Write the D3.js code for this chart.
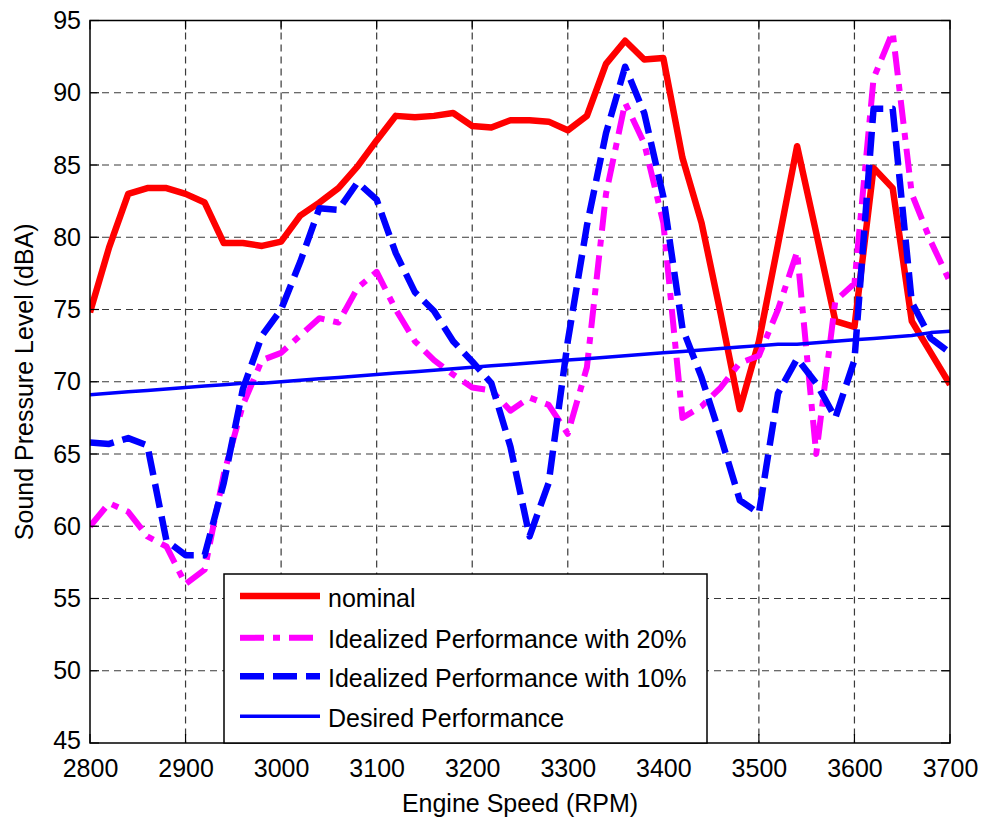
<!DOCTYPE html>
<html>
<head>
<meta charset="utf-8">
<script src="https://cdn.jsdelivr.net/npm/d3@7"></script>
<style>
  html, body { margin: 0; padding: 0; background: #fff; }
  svg text { font-family: "Liberation Sans", Arial, Helvetica, sans-serif; fill: #000; }
</style>
</head>
<body>
<svg id="chart" width="984" height="821"></svg>
<script>
// ---------- data ----------
const rpm = [2800, 2820, 2840, 2860, 2880, 2900, 2920, 2940, 2960, 2980,
             3000, 3020, 3040, 3060, 3080, 3100, 3120, 3140, 3160, 3180,
             3200, 3220, 3240, 3260, 3280, 3300, 3320, 3340, 3360, 3380,
             3400, 3420, 3440, 3460, 3480, 3500, 3520, 3540, 3560, 3580,
             3600, 3620, 3640, 3660, 3680, 3700];

const nominal = [74.8, 79.3, 83.0, 83.4, 83.4, 83.0, 82.4, 79.6, 79.6, 79.4,
                 79.7, 81.5, 82.4, 83.4, 84.9, 86.7, 88.4, 88.3, 88.4, 88.6,
                 87.7, 87.6, 88.1, 88.1, 88.0, 87.4, 88.4, 92.0, 93.6, 92.3,
                 92.4, 85.5, 81.0, 74.7, 68.1, 72.8, 79.5, 86.3, 80.3, 74.2,
                 73.8, 84.8, 83.4, 74.2, 72.0, 69.8];

const ideal20 = [60.0, 61.6, 61.0, 59.3, 58.6, 56.0, 57.0, 63.6, 68.4, 71.5,
                 72.0, 73.2, 74.4, 74.1, 76.5, 77.6, 75.0, 72.8, 71.5, 70.5,
                 69.6, 69.4, 68.0, 68.9, 68.4, 66.4, 71.0, 83.0, 89.3, 86.5,
                 81.0, 67.5, 68.3, 69.6, 71.3, 71.8, 75.0, 79.0, 65.0, 75.6,
                 76.8, 91.0, 94.2, 83.0, 79.7, 76.9];

const ideal10 = [65.8, 65.7, 66.1, 65.6, 59.0, 58.0, 58.0, 63.0, 69.5, 73.2,
                 75.0, 78.3, 82.0, 81.9, 83.8, 82.6, 78.9, 76.2, 74.9, 72.8,
                 71.4, 69.9, 65.5, 59.3, 63.0, 72.8, 80.8, 87.2, 91.8, 88.6,
                 82.8, 73.7, 70.3, 66.2, 61.8, 60.9, 69.2, 71.6, 69.9, 67.5,
                 71.5, 88.9, 88.9, 75.5, 73.0, 72.0];

const desired = [69.1, 69.2, 69.3, 69.4, 69.5, 69.6, 69.7, 69.8, 69.9, 69.9,
                 70.0, 70.1, 70.2, 70.3, 70.4, 70.5, 70.6, 70.7, 70.8, 70.9,
                 71.0, 71.1, 71.2, 71.3, 71.4, 71.5, 71.6, 71.7, 71.8, 71.9,
                 72.0, 72.1, 72.2, 72.3, 72.4, 72.5, 72.6, 72.6, 72.7, 72.8,
                 72.9, 73.0, 73.1, 73.2, 73.4, 73.5];

const xTicks = [2800, 2900, 3000, 3100, 3200, 3300, 3400, 3500, 3600, 3700];
const yTicks = [45, 50, 55, 60, 65, 70, 75, 80, 85, 90, 95];

const seriesNames = ["nominal", "Idealized Performance with 20%", "Idealized Performance with 10%", "Desired Performance"];
const xLabel = "Engine Speed (RPM)";
const yLabel = "Sound Pressure Level (dBA)";

// ---------- layout ----------
const L = 90, R = 950, T = 20.5, B = 743;
const svg = d3.select("#chart");
const x = d3.scaleLinear().domain([2800, 3700]).range([L, R]);
const y = d3.scaleLinear().domain([45, 95]).range([B, T]);

const styles = [
  { data: nominal, color: "#ff0000", width: 6.5, dash: null },
  { data: ideal20, color: "#ff00ff", width: 6, dash: "24,9,7,9" },
  { data: ideal10, color: "#0000ff", width: 6.5, dash: "24,9" },
  { data: desired, color: "#0000ff", width: 3.5, dash: null }
];

// grid
const grid = svg.append("g");
grid.selectAll("line.gx").data(xTicks.slice(1, -1)).join("line")
  .attr("x1", d => x(d)).attr("x2", d => x(d)).attr("y1", T).attr("y2", B)
  .attr("stroke", "#3a3a3a").attr("stroke-width", 1.2).attr("stroke-dasharray", "7,5");
grid.selectAll("line.gy").data(yTicks.slice(1, -1)).join("line")
  .attr("y1", d => y(d)).attr("y2", d => y(d)).attr("x1", L).attr("x2", R)
  .attr("stroke", "#3a3a3a").attr("stroke-width", 1.2).attr("stroke-dasharray", "7,5");

// clip
svg.append("clipPath").attr("id", "clip").append("rect")
  .attr("x", L).attr("y", T).attr("width", R - L).attr("height", B - T);

const line = d3.line().x((d, i) => x(rpm[i])).y(d => y(d));
const lines = svg.append("g").attr("clip-path", "url(#clip)");
styles.forEach(s => {
  lines.append("path").datum(s.data)
    .attr("d", line)
    .attr("fill", "none")
    .attr("stroke", s.color)
    .attr("stroke-width", s.width)
    .attr("stroke-linejoin", "round")
    .attr("stroke-dasharray", s.dash);
});

// axes (box + inward ticks)
const axisG = svg.append("g");
axisG.append("rect").attr("x", L).attr("y", T).attr("width", R - L).attr("height", B - T)
  .attr("fill", "none").attr("stroke", "#000").attr("stroke-width", 1.5);

const bottomAxis = d3.axisBottom(x).tickValues(xTicks).tickSize(0).tickPadding(16).tickFormat(d3.format("d"));
const gb = axisG.append("g").attr("transform", `translate(0,${B})`).call(bottomAxis);
gb.select(".domain").remove();
gb.selectAll("text").attr("font-size", 25).attr("font-family", "Liberation Sans, Arial, sans-serif");

const leftAxis = d3.axisLeft(y).tickValues(yTicks).tickSize(0).tickPadding(9);
const gl = axisG.append("g").attr("transform", `translate(${L},0)`).call(leftAxis);
gl.select(".domain").remove();
gl.selectAll("text").attr("font-size", 25).attr("font-family", "Liberation Sans, Arial, sans-serif");
gl.selectAll(".tick").filter(d => d === 45).select("text").attr("dy", "0.2em");

const tk = 9;
axisG.selectAll("line.tb").data(xTicks).join("line")
  .attr("x1", d => x(d)).attr("x2", d => x(d)).attr("y1", B).attr("y2", B - tk)
  .attr("stroke", "#000").attr("stroke-width", 1.2);
axisG.selectAll("line.tt").data(xTicks).join("line")
  .attr("x1", d => x(d)).attr("x2", d => x(d)).attr("y1", T).attr("y2", T + tk)
  .attr("stroke", "#000").attr("stroke-width", 1.2);
axisG.selectAll("line.tl").data(yTicks).join("line")
  .attr("y1", d => y(d)).attr("y2", d => y(d)).attr("x1", L).attr("x2", L + tk)
  .attr("stroke", "#000").attr("stroke-width", 1.2);
axisG.selectAll("line.tr").data(yTicks).join("line")
  .attr("y1", d => y(d)).attr("y2", d => y(d)).attr("x1", R).attr("x2", R - tk)
  .attr("stroke", "#000").attr("stroke-width", 1.2);

// axis titles
svg.append("text").attr("x", (L + R) / 2).attr("y", 812).attr("text-anchor", "middle")
  .attr("font-size", 25).text(xLabel);
svg.append("text").attr("transform", `translate(33,${(T + B) / 2}) rotate(-90)`)
  .attr("text-anchor", "middle").attr("font-size", 25).text(yLabel);

// legend
const lg = svg.append("g");
lg.append("rect").attr("x", 224).attr("y", 574).attr("width", 483).attr("height", 169)
  .attr("fill", "#fff").attr("stroke", "#000").attr("stroke-width", 1.5);
const baselines = [606.5, 648.3, 686.7, 726.7];
styles.forEach((s, i) => {
  lg.append("line").attr("x1", 240).attr("x2", 320)
    .attr("y1", baselines[i] - 10.5).attr("y2", baselines[i] - 10.5)
    .attr("stroke", s.color).attr("stroke-width", s.width)
    .attr("stroke-dasharray", s.dash);
  lg.append("text").attr("x", 328).attr("y", baselines[i]).attr("font-size", 25).text(seriesNames[i]);
});
</script>
</body>
</html>
